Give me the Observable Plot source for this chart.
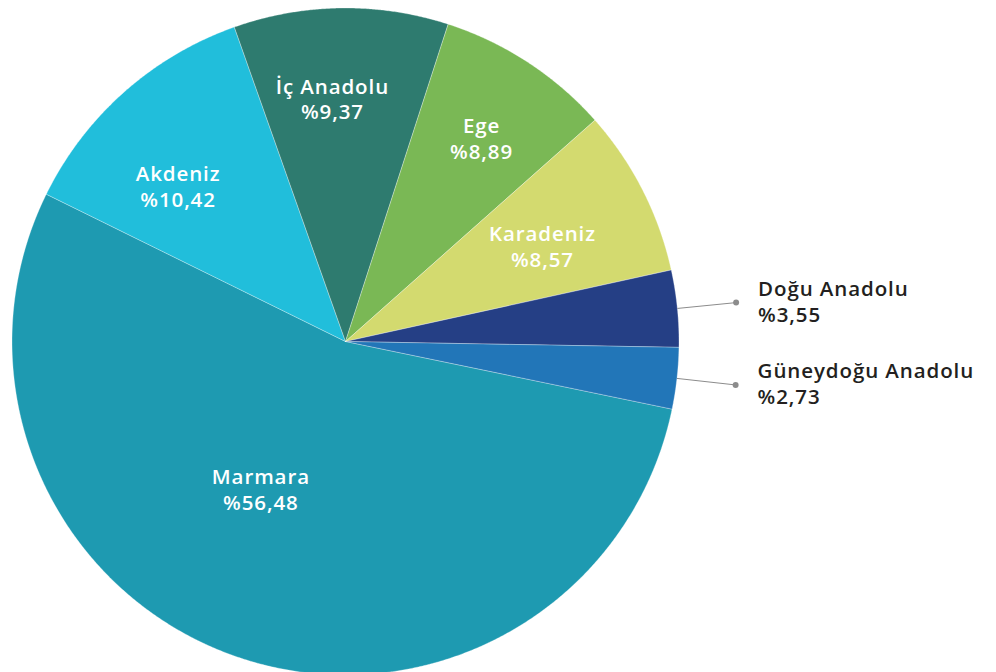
<!DOCTYPE html>
<html>
<head>
<meta charset="utf-8">
<script src="https://cdn.jsdelivr.net/npm/d3@7"></script>
<script src="https://cdn.jsdelivr.net/npm/@observablehq/plot@0.6"></script>
<style>
  html, body { margin: 0; padding: 0; background: #fff; overflow: hidden; }
  #chart svg { display: block; overflow: hidden; }
  #chart text { letter-spacing: 0.9px; }
</style>
</head>
<body>
<div id="chart"></div>
<script>
// ---- data ----
const regions = ["Marmara", "Akdeniz", "İç Anadolu", "Ege", "Karadeniz", "Doğu Anadolu", "Güneydoğu Anadolu"];
const percentLabels = ["%56,48", "%10,42", "%9,37", "%8,89", "%8,57", "%3,55", "%2,73"];
const drawnShares = [54.03, 12.31, 10.39, 8.47, 8.11, 3.72, 2.97];
const colors = ["#1e9ab1", "#21bedb", "#2e7b6f", "#7ab855", "#d3da6f", "#253f85", "#2276b8"];

// ---- layout ----
const W = 996, H = 672, cx = 345, cy = 341, R = 333.5;
const startDeg = 101.7;
const rad = Math.PI / 180;
// label placement tweaks for inside labels: [angle shift in degrees, radius factor]
const labelNudge = {
  "Marmara": [10.95, 0.509],
  "Akdeniz": [-5.5, 0.685],
  "İç Anadolu": [-2.3, 0.730],
  "Ege": [0.55, 0.735],
  "Karadeniz": [1.0, 0.657]
};

const rows = regions.map((r, i) => ({region: r, label: percentLabels[i], share: drawnShares[i]}));
const arcs = d3.pie().sort(null).value(d => d.share)
  .startAngle(startDeg * rad).endAngle(startDeg * rad + 2 * Math.PI)(rows);

const pt = (a, r) => ({x: r * Math.sin(a), y: r * Math.cos(a)});

// slice outlines
const poly = [];
arcs.forEach(a => {
  const reg = a.data.region;
  poly.push({region: reg, x: 0, y: 0});
  const n = Math.max(2, Math.ceil((a.endAngle - a.startAngle) / (0.25 * rad)));
  for (let k = 0; k <= n; k++) {
    const t = a.startAngle + (a.endAngle - a.startAngle) * k / n;
    poly.push({region: reg, ...pt(t, 1)});
  }
  poly.push({region: reg, x: 0, y: 0});
});

const inside = [], outside = [], leaders = [];
arcs.forEach(a => {
  const mid = (a.startAngle + a.endAngle) / 2;
  const text = a.data.region + "\n" + a.data.label;
  if (a.data.share > 5) {
    const [da, rf] = labelNudge[a.data.region] || [0, 0.7];
    inside.push({text, ...pt(mid + da * rad, rf)});
  } else {
    const p0 = pt(mid, 1.0), p1 = pt(mid, 1.177);
    leaders.push({x1: p0.x, y1: p0.y, x2: p1.x, y2: p1.y});
    outside.push({text, ...p1});
  }
});

const xDomain = [-cx / R, (W - cx) / R];
const yDomain = [(cy - H) / R, cy / R];

const chart = Plot.plot({
  width: W,
  height: H,
  margin: 0,
  x: {domain: xDomain, axis: null},
  y: {domain: yDomain, axis: null},
  color: {domain: regions, range: colors},
  style: {background: "#fff"},
  marks: [
    Plot.line(poly, {x: "x", y: "y", z: "region", fill: "region", stroke: "#ffffff", strokeWidth: 0.6, strokeOpacity: 0.5, curve: "linear"}),
    Plot.link(leaders, {x1: "x1", y1: "y1", x2: "x2", y2: "y2", stroke: "#8c8c8c", strokeWidth: 1}),
    Plot.dot(leaders, {x: "x2", y: "y2", r: 3, fill: "#8c8c8c", stroke: null}),
    Plot.text(inside, {x: "x", y: "y", text: "text", fill: "#ffffff", fontSize: 20.5, fontWeight: 600,
      fontFamily: "'Open Sans', sans-serif", lineHeight: 1.25, textAnchor: "middle", lineAnchor: "middle"}),
    Plot.text(outside, {x: "x", y: "y", text: "text", fill: "#231f20", fontSize: 20.5, fontWeight: 600,
      fontFamily: "'Open Sans', sans-serif", lineHeight: 1.25, textAnchor: "start", lineAnchor: "middle", dx: 22, dy: -2})
  ]
});
document.getElementById("chart").appendChild(chart);
</script>
</body>
</html>
